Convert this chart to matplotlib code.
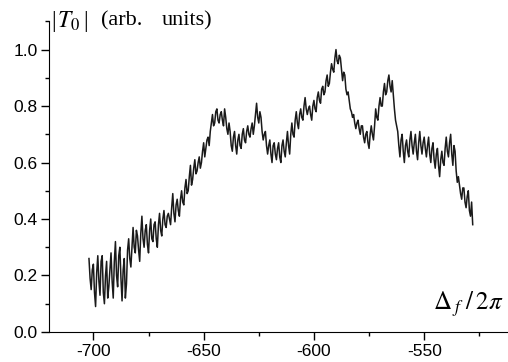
import numpy as np
import matplotlib
matplotlib.use("Agg")
import matplotlib.pyplot as plt
from matplotlib.ticker import MultipleLocator

# detuning axis: samples every 0.5 from -702 to -528
x_start = -702
x_stop = -528

# |T0| at the whole-number detunings (arb. units)
t0 = [
    0.26, 0.15, 0.24, 0.09, 0.27, 0.13, 0.27, 0.10, 0.25, 0.16,   # -702..-693
    0.28, 0.12, 0.32, 0.16, 0.30, 0.11, 0.26, 0.17, 0.33, 0.23,   # -692..-683
    0.37, 0.28, 0.34, 0.25, 0.41, 0.30, 0.38, 0.28, 0.40, 0.32,   # -682..-673
    0.39, 0.30, 0.42, 0.34, 0.43, 0.37, 0.42, 0.38, 0.49, 0.39,   # -672..-663
    0.47, 0.41, 0.50, 0.45, 0.54, 0.50, 0.59, 0.54, 0.61, 0.57,   # -662..-653
    0.62, 0.60, 0.67, 0.65, 0.69, 0.71, 0.77, 0.74, 0.79, 0.74,   # -652..-643
    0.78, 0.73, 0.76, 0.70, 0.71, 0.64, 0.71, 0.63, 0.70, 0.65,   # -642..-633
    0.72, 0.67, 0.73, 0.69, 0.74, 0.73, 0.81, 0.74, 0.76, 0.68,   # -632..-623
    0.71, 0.63, 0.68, 0.60, 0.67, 0.61, 0.67, 0.60, 0.68, 0.62,   # -622..-613
    0.71, 0.63, 0.74, 0.69, 0.78, 0.72, 0.79, 0.75, 0.83, 0.77,   # -612..-603
    0.80, 0.75, 0.82, 0.78, 0.85, 0.81, 0.87, 0.85, 0.91, 0.88,   # -602..-593
    0.95, 0.92, 1.00, 0.95, 0.97, 0.89, 0.91, 0.84, 0.82, 0.78,   # -592..-583
    0.77, 0.72, 0.75, 0.70, 0.73, 0.67, 0.71, 0.65, 0.73, 0.68,   # -582..-573
    0.79, 0.75, 0.83, 0.80, 0.88, 0.85, 0.91, 0.85, 0.84, 0.75,   # -572..-563
    0.71, 0.62, 0.70, 0.60, 0.68, 0.62, 0.71, 0.63, 0.70, 0.61,   # -562..-553
    0.71, 0.63, 0.69, 0.62, 0.69, 0.60, 0.67, 0.58, 0.65, 0.55,   # -552..-543
    0.64, 0.59, 0.69, 0.62, 0.70, 0.59, 0.64, 0.53, 0.52, 0.47,   # -542..-533
    0.51, 0.44, 0.50, 0.41, 0.38,                                 # -532..-528
]

# |T0| at the half-way detunings (-701.5 .. -528.5)
t0_mid = [
    0.19, 0.22, 0.14, 0.21, 0.18, 0.25, 0.14, 0.20, 0.12, 0.22,
    0.18, 0.25, 0.20, 0.27, 0.19, 0.22, 0.12, 0.29, 0.26, 0.30,
    0.30, 0.36, 0.29, 0.35, 0.33, 0.36, 0.31, 0.36, 0.33, 0.38,
    0.33, 0.38, 0.36, 0.40, 0.38, 0.41, 0.40, 0.44, 0.42, 0.45,
    0.43, 0.47, 0.46, 0.51, 0.49, 0.55, 0.52, 0.58, 0.56, 0.60,
    0.58, 0.64, 0.62, 0.68, 0.66, 0.74, 0.73, 0.78, 0.75, 0.77,
    0.75, 0.79, 0.72, 0.74, 0.66, 0.69, 0.66, 0.68, 0.66, 0.70,
    0.68, 0.71, 0.70, 0.72, 0.70, 0.77, 0.76, 0.78, 0.71, 0.70,
    0.66, 0.66, 0.63, 0.66, 0.63, 0.65, 0.62, 0.66, 0.64, 0.67,
    0.66, 0.70, 0.70, 0.75, 0.74, 0.77, 0.76, 0.80, 0.79, 0.79,
    0.77, 0.80, 0.79, 0.83, 0.82, 0.86, 0.84, 0.89, 0.87, 0.92,
    0.93, 0.97, 0.96, 0.98, 0.93, 0.92, 0.86, 0.85, 0.79, 0.76,
    0.74, 0.74, 0.72, 0.73, 0.69, 0.70, 0.67, 0.70, 0.70, 0.73,
    0.76, 0.80, 0.80, 0.85, 0.84, 0.89, 0.87, 0.89, 0.79, 0.73,
    0.66, 0.68, 0.64, 0.66, 0.64, 0.68, 0.66, 0.67, 0.64, 0.67,
    0.66, 0.67, 0.65, 0.66, 0.63, 0.65, 0.61, 0.63, 0.59, 0.61,
    0.60, 0.65, 0.64, 0.67, 0.63, 0.66, 0.57, 0.55, 0.49, 0.51,
    0.46, 0.48, 0.43, 0.46,
]

# interleave the two readings
signal = np.empty(len(t0) + len(t0_mid))
signal[0::2] = t0
signal[1::2] = t0_mid
detuning = np.linspace(x_start, x_stop, len(signal))

plt.rcParams['font.family'] = ['Liberation Sans', 'DejaVu Sans']
plt.rcParams['mathtext.fontset'] = 'stix'
plt.rcParams['axes.unicode_minus'] = False

fig = plt.figure(figsize=(5.08, 3.62), dpi=100)
ax = fig.add_axes([0.097, 0.083, 0.903, 0.858])

ax.plot(detuning, signal, color='#1a1a1a', lw=1.1)

ax.set_xlim(-720, -512)
ax.set_ylim(0, 1.1)
ax.xaxis.set_major_locator(MultipleLocator(50))
ax.xaxis.set_minor_locator(MultipleLocator(25))
ax.yaxis.set_major_locator(MultipleLocator(0.2))
ax.yaxis.set_minor_locator(MultipleLocator(0.1))
ax.yaxis.set_major_formatter(plt.FormatStrFormatter('%.1f'))
ax.tick_params(which='major', direction='out', length=5.5, width=1, labelsize=12.5, pad=3)
ax.tick_params(which='minor', direction='out', length=3, width=1)

for side in ['top', 'right']:
    ax.spines[side].set_visible(False)

# y label written at the top of the axis, pieces placed like the original
serif = 'Liberation Serif'
ax.text(0.004, 1.0, '|', transform=ax.transAxes, fontsize=17, family=serif,
        ha='left', va='center')
ax.text(0.017, 1.0, r'$T_0$', transform=ax.transAxes, fontsize=17,
        ha='left', va='center')
ax.text(0.074, 1.0, '|', transform=ax.transAxes, fontsize=17, family=serif,
        ha='left', va='center')
ax.text(0.113, 1.0, '(arb.', transform=ax.transAxes, fontsize=16, family=serif,
        ha='left', va='center')
ax.text(0.246, 1.0, 'units)', transform=ax.transAxes, fontsize=16, family=serif,
        ha='left', va='center')
ax.text(0.99, 0.09, r'$\Delta_{\;f}\;/\,2\pi$', transform=ax.transAxes,
        fontsize=18, ha='right', va='center')

fig.savefig('out.png', dpi=100)
